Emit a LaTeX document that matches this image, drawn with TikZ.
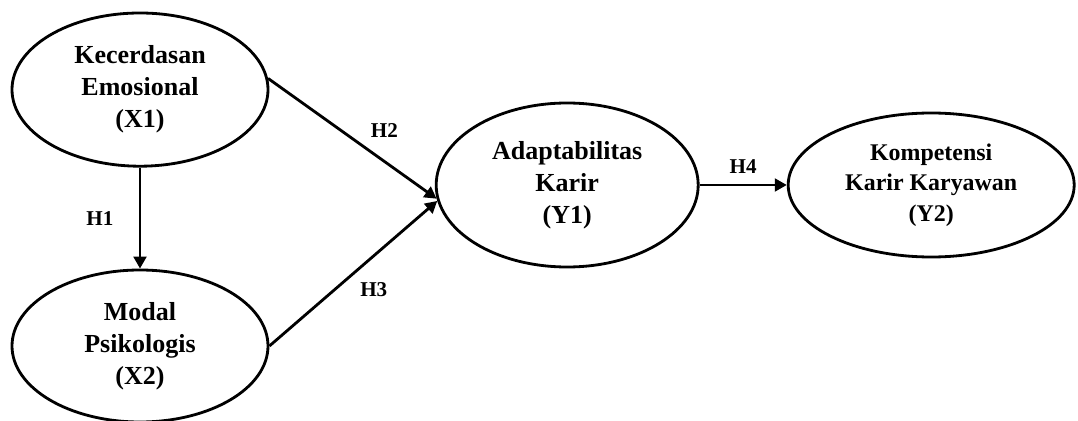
\documentclass[tikz,border=0pt]{standalone}
\usepackage{fontspec}
\setmainfont{Liberation Serif}
\usetikzlibrary{shapes.geometric,arrows.meta,positioning}

\begin{document}
\begin{tikzpicture}[line width=2pt, line join=round, >={Triangle[length=8.5pt,width=9pt]}]
	\tikzset{var/.style={ellipse, draw, inner sep=0pt, align=center, font=\bfseries\fontsize{18.5}{22.8}\selectfont},
		hyp/.style={inner sep=0pt, font=\bfseries\fontsize{15}{18}\selectfont}}
	\useasboundingbox (0,0) rectangle (26.95,10.5);
	\node[var, minimum width=6.4cm, minimum height=3.83cm] (X1) at (3.5,8.26) {Kecerdasan\\Emosional\\(X1)};
	\node[var, minimum width=6.4cm, minimum height=3.8cm] (X2) at (3.5,1.85) {Modal\\Psikologis\\(X2)};
	\node[var, minimum width=6.55cm, minimum height=4.1cm] (Y1) at (14.18,5.875) {Adaptabilitas\\Karir\\(Y1)};
	\node[var, minimum width=7.15cm, minimum height=3.6cm, font=\bfseries\fontsize{17}{21.7}\selectfont] (Y2) at (23.28,5.875) {Kompetensi\\Karir Karyawan\\(Y2)};
	\draw[->] (X1) -- node[hyp, left=0.63cm] (h1) {H1} (X2);
	\draw[->] (X1.5) -- node[hyp, xshift=0.8cm, yshift=0.19cm] (h2) {H2} (Y1.186);
	\draw[->] (X2.east) -- node[hyp, xshift=0.51cm, yshift=-0.4cm] (h3) {H3} (Y1.187);
	\draw[->] (Y1) -- node[hyp, above=0.25cm] (h4) {H4} (Y2);
\end{tikzpicture}
\end{document}
